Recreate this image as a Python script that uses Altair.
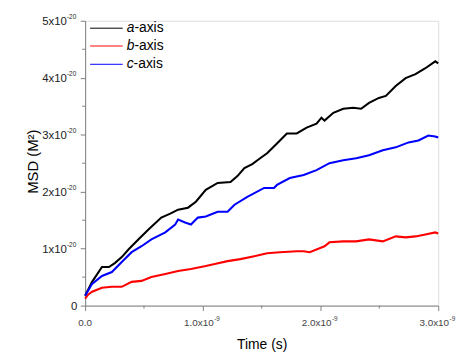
import altair as alt
import pandas as pd

# Time in units of 1e-9 s, MSD in units of 1e-20 m^2
a_t = [0.000, 0.059, 0.143, 0.202, 0.252, 0.311, 0.370, 0.454, 0.538, 0.647, 0.723, 0.790, 0.874, 0.941,
       1.025, 1.126, 1.235, 1.294, 1.353, 1.420, 1.487, 1.546, 1.630, 1.714, 1.798, 1.882, 1.966, 2.008,
       2.034, 2.109, 2.193, 2.277, 2.345, 2.412, 2.496, 2.555, 2.639, 2.723, 2.807, 2.891, 2.975, 3.000]
a_v = [0.174, 0.417, 0.677, 0.677, 0.747, 0.851, 0.990, 1.163, 1.337, 1.545, 1.615, 1.684, 1.719, 1.823,
       2.031, 2.153, 2.170, 2.274, 2.413, 2.483, 2.587, 2.674, 2.847, 3.021, 3.021, 3.125, 3.194, 3.299,
       3.247, 3.385, 3.455, 3.472, 3.455, 3.559, 3.646, 3.681, 3.854, 3.993, 4.063, 4.167, 4.288, 4.253]

b_t = [0.000, 0.025, 0.059, 0.143, 0.227, 0.311, 0.395, 0.479, 0.563, 0.681, 0.790, 0.899, 1.025, 1.101,
       1.210, 1.319, 1.437, 1.546, 1.655, 1.798, 1.857, 1.908, 1.992, 2.034, 2.076, 2.193, 2.303, 2.412,
       2.529, 2.639, 2.723, 2.807, 2.891, 2.975, 3.000]
b_v = [0.122, 0.191, 0.243, 0.313, 0.330, 0.330, 0.417, 0.434, 0.503, 0.556, 0.608, 0.642, 0.694, 0.729,
       0.781, 0.816, 0.868, 0.920, 0.938, 0.955, 0.955, 0.938, 1.007, 1.042, 1.111, 1.128, 1.128, 1.163,
       1.128, 1.215, 1.198, 1.215, 1.250, 1.285, 1.267]

c_t = [0.000, 0.059, 0.143, 0.227, 0.311, 0.395, 0.479, 0.563, 0.681, 0.765, 0.790, 0.849, 0.899, 0.958,
       1.025, 1.126, 1.210, 1.269, 1.378, 1.521, 1.605, 1.630, 1.739, 1.857, 1.966, 2.076, 2.193, 2.303,
       2.412, 2.529, 2.639, 2.748, 2.832, 2.916, 2.975, 3.000]
c_v = [0.174, 0.382, 0.521, 0.590, 0.764, 0.938, 1.042, 1.163, 1.285, 1.424, 1.510, 1.458, 1.424, 1.545,
       1.563, 1.649, 1.649, 1.771, 1.910, 2.066, 2.066, 2.118, 2.240, 2.292, 2.378, 2.500, 2.552, 2.587,
       2.639, 2.726, 2.778, 2.865, 2.899, 2.986, 2.969, 2.951]

series_names = ["a", "b", "c"]
series_colors = ["#000000", "#ff0000", "#0000ff"]

x_major = [0, 1, 2, 3]
x_major_text = ["0.0", "1.0x10", "2.0x10", "3.0x10"]
x_major_sup = ["", "-9", "-9", "-9"]
x_minor = [0.5, 1.5, 2.5]
y_major = [0, 1, 2, 3, 4, 5]
y_major_text = ["0", "1x10", "2x10", "3x10", "4x10", "5x10"]
y_major_sup = ["", "-20", "-20", "-20", "-20", "-20"]
y_minor = [0.5, 1.5, 2.5, 3.5, 4.5]

FONT = "Liberation Sans, Arial, sans-serif"
W, H = 357, 288

rows = []
for name, ts, vs in zip(series_names, [a_t, b_t, c_t], [a_v, b_v, c_v]):
    for i, (t, v) in enumerate(zip(ts, vs)):
        rows.append({"series": name, "t": t, "v": v, "order": i})
df = pd.DataFrame(rows)

xscale = alt.Scale(domain=[0, 3], nice=False, zero=False)
yscale = alt.Scale(domain=[0, 5], nice=False, zero=False)

xaxis = alt.Axis(
    values=x_major, title="Time (s)", grid=False, domainColor="#808080", tickColor="#808080",
    tickSize=5, labels=False,
    titleFont=FONT, titleFontSize=14, titleFontWeight="normal", titleColor="#000000",
    titleX=W / 2, titleY=43, titleBaseline="alphabetic", titleAlign="center",
)
yaxis = alt.Axis(
    values=y_major, title="MSD (M²)", grid=False, domainColor="#808080", tickColor="#808080",
    tickSize=5, labels=False,
    titleFont=FONT, titleFontSize=15, titleFontWeight="normal", titleColor="#000000",
    titleX=-53, titleY=142, titleAngle=270, titleAlign="center", titleBaseline="middle",
)

lines = alt.Chart(df).mark_line(strokeWidth=2.1).encode(
    x=alt.X("t:Q", scale=xscale, axis=xaxis),
    y=alt.Y("v:Q", scale=yscale, axis=yaxis),
    color=alt.Color("series:N", scale=alt.Scale(domain=series_names, range=series_colors), legend=None),
    order="order:Q",
)

xmin_df = pd.DataFrame({"t": x_minor})
ymin_df = pd.DataFrame({"v": y_minor})
xminor = alt.Chart(xmin_df).mark_rule(color="#808080", strokeWidth=1).encode(
    x=alt.X("t:Q", scale=xscale), y=alt.value(H), y2=alt.value(H + 3)
)
yminor = alt.Chart(ymin_df).mark_rule(color="#808080", strokeWidth=1).encode(
    y=alt.Y("v:Q", scale=yscale), x=alt.value(0), x2=alt.value(-3)
)

# tick labels with real superscripts
xl_df = pd.DataFrame({"t": x_major, "main": x_major_text, "sup": x_major_sup})
xl_zero = alt.Chart(xl_df[xl_df["sup"] == ""]).mark_text(
    font=FONT, fontSize=10, align="center", baseline="alphabetic", color="#444444"
).encode(x=alt.X("t:Q", scale=xscale), y=alt.value(H + 20.5), text="main:N")
xl_main = alt.Chart(xl_df[xl_df["sup"] != ""]).mark_text(
    font=FONT, fontSize=10, align="right", baseline="alphabetic", color="#444444", dx=11
).encode(x=alt.X("t:Q", scale=xscale), y=alt.value(H + 20.5), text="main:N")
xl_sup = alt.Chart(xl_df[xl_df["sup"] != ""]).mark_text(
    font=FONT, fontSize=6.5, align="left", baseline="alphabetic", color="#444444", dx=11.5
).encode(x=alt.X("t:Q", scale=xscale), y=alt.value(H + 16), text="sup:N")

yl_df = pd.DataFrame({"v": y_major, "main": y_major_text, "sup": y_major_sup})
yl_zero = alt.Chart(yl_df[yl_df["sup"] == ""]).mark_text(
    font=FONT, fontSize=11.5, align="right", baseline="alphabetic", color="#222222", dy=4.3
).encode(y=alt.Y("v:Q", scale=yscale), x=alt.value(-8), text="main:N")
yl_main = alt.Chart(yl_df[yl_df["sup"] != ""]).mark_text(
    font=FONT, fontSize=11.5, align="right", baseline="alphabetic", color="#222222", dy=4.3
).encode(y=alt.Y("v:Q", scale=yscale), x=alt.value(-18.5), text="main:N")
yl_sup = alt.Chart(yl_df[yl_df["sup"] != ""]).mark_text(
    font=FONT, fontSize=6.5, align="right", baseline="alphabetic", color="#222222", dy=-1.5
).encode(y=alt.Y("v:Q", scale=yscale), x=alt.value(-9), text="sup:N")

# manual legend (italic axis letter + "-axis")
legend_layers = []
leg_y = [7.5, 25.5, 44]
letter_w = [7.8, 7.8, 7.0]
one = pd.DataFrame({"k": [0]})
for name, col, ly, lw in zip(series_names, series_colors, leg_y, letter_w):
    legend_layers.append(
        alt.Chart(one).mark_rule(color=col, strokeWidth=1).encode(
            x=alt.value(5), x2=alt.value(38), y=alt.value(ly)
        )
    )
    legend_layers.append(
        alt.Chart(one).mark_text(text=name, font=FONT, fontSize=14, fontStyle="italic",
                                 align="left", baseline="middle", color="#000000").encode(
            x=alt.value(42), y=alt.value(ly)
        )
    )
    legend_layers.append(
        alt.Chart(one).mark_text(text="-axis", font=FONT, fontSize=14,
                                 align="left", baseline="middle", color="#000000").encode(
            x=alt.value(42 + lw), y=alt.value(ly)
        )
    )

chart = alt.layer(lines, xminor, yminor, xl_zero, xl_main, xl_sup, yl_zero, yl_main, yl_sup,
                  *legend_layers).properties(
    width=W, height=H,
    autosize=alt.AutoSizeParams(type="none"),
    padding={"left": 78, "top": 11, "right": 20, "bottom": 46},
).configure_view(stroke=None).configure(background="white")

chart.save("out.html", embed_options={"renderer": "svg", "actions": False})
